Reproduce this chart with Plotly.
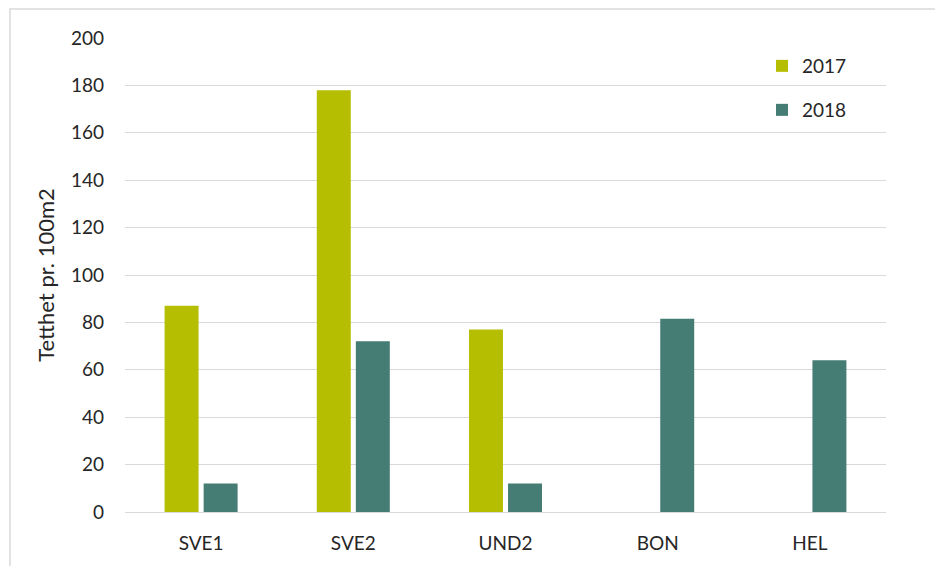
import plotly.graph_objects as go

categories = ["SVE1", "SVE2", "UND2", "BON", "HEL"]
values_2017 = [87, 178, 77, None, None]
values_2018 = [12, 72, 12, 81.5, 64]
y_ticks = [0, 20, 40, 60, 80, 100, 120, 140, 160, 180, 200]

W, H = 935, 566
L, R, T, B = 125, 49, 38, 54
pw, ph = W - L - R, H - T - B

def px_x(x):
    return (x - L) / pw

def px_y(y):
    return (H - B - y) / ph

fig = go.Figure()
fig.add_trace(go.Bar(name="2017", x=categories, y=values_2017, legend="legend",
                     marker=dict(color="#B5BE00", line=dict(width=0))))
fig.add_trace(go.Bar(name="2018", x=categories, y=values_2018, legend="legend2",
                     marker=dict(color="#457C73", line=dict(width=0))))

font = "Lato, 'Open Sans', sans-serif"
leg_common = dict(xanchor="left", yanchor="middle",
                  font=dict(size=19, color="#262626"),
                  bgcolor="rgba(0,0,0,0)")
fig.update_layout(
    width=W, height=H,
    margin=dict(l=L, r=R, t=T, b=B),
    paper_bgcolor="white", plot_bgcolor="white",
    barmode="group", bargap=0.487, bargroupgap=0.13,
    font=dict(family=font, size=19, color="#262626"),
    showlegend=True,
    legend=dict(x=px_x(762), y=px_y(66), **leg_common),
    legend2=dict(x=px_x(762), y=px_y(110), **leg_common),
    xaxis=dict(showgrid=False, showline=True, linecolor="#D9D9D9", linewidth=1,
               ticks="", tickfont=dict(size=19), ticklabelstandoff=14, fixedrange=True),
    yaxis=dict(range=[0, 200], tickvals=y_ticks, showgrid=True, gridcolor="#D9D9D9",
               gridwidth=1, zeroline=False, showline=False, ticks="",
               tickfont=dict(size=19), ticklabelstandoff=20,
               title=dict(text="Tetthet pr. 100m2", font=dict(size=22), standoff=10)),
    shapes=[dict(type="rect", xref="paper", yref="paper",
                 x0=px_x(10), x1=px_x(960), y0=px_y(600), y1=px_y(9),
                 line=dict(color="#D9D9D9", width=1.5), fillcolor="rgba(0,0,0,0)",
                 layer="below")],
)

fig.write_html("out.html")
